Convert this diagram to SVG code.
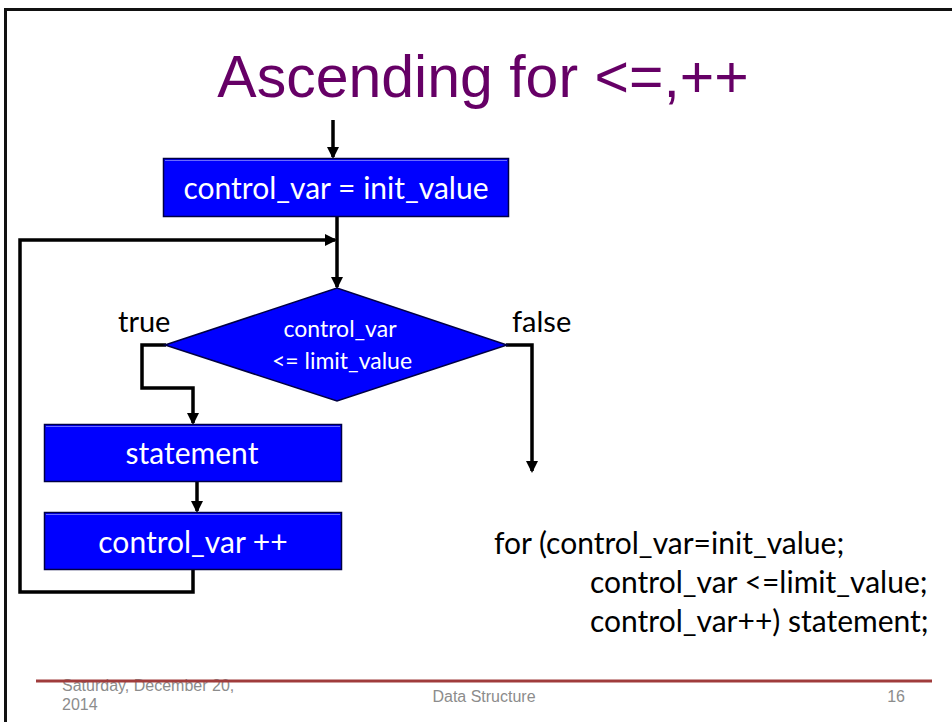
<svg xmlns="http://www.w3.org/2000/svg" width="952" height="722" viewBox="0 0 952 722">
  <style>
    .box { fill: #0000ff; stroke: #000044; stroke-width: 1.5; }
    .bevel { fill: none; stroke: #6a6aff; stroke-width: 1; }
    .lbl { font-family: Lato, "Open Sans", sans-serif; fill: #ffffff; text-anchor: middle; }
    .txt { font-family: Lato, "Open Sans", sans-serif; fill: #000000; }
    .wire { fill: none; stroke: #000000; stroke-width: 3.5; stroke-linejoin: miter; }
    .foot { font-family: "Liberation Sans", Arial, sans-serif; fill: #8c8c8c; font-size: 16px; }
  </style>
  <defs>
    <marker id="arrow" markerWidth="12" markerHeight="12" refX="10" refY="6" orient="auto" markerUnits="userSpaceOnUse">
      <path d="M0,0 L12,6 L0,12 Z" fill="#000000"/>
    </marker>
  </defs>

  <rect x="0" y="0" width="952" height="722" fill="#ffffff"/>
  <!-- slide frame -->
  <path d="M5.5,722 L5.5,9.5 L952,9.5" fill="none" stroke="#111111" stroke-width="3"/>

  <!-- title -->
  <text x="483" y="97" font-family="'Liberation Sans', Arial, sans-serif" font-size="59" fill="#660066" text-anchor="middle">Ascending for &lt;=,++</text>

  <!-- connectors -->
  <g id="connectors">
    <path class="wire" d="M333,120 L333,157" marker-end="url(#arrow)"/>
    <path class="wire" d="M337,217 L337,287" marker-end="url(#arrow)"/>
    <path class="wire" d="M193,569 L193,592 L20,592 L20,240 L335,240" marker-end="url(#arrow)"/>
    <path class="wire" d="M166,345 L142,345 L142,388 L193,388 L193,423" marker-end="url(#arrow)"/>
    <path class="wire" d="M197,482 L197,511" marker-end="url(#arrow)"/>
    <path class="wire" d="M506,345 L532,345 L532,471" marker-end="url(#arrow)"/>
  </g>

  <!-- init node -->
  <g id="init">
    <rect class="box" x="163.5" y="158.5" width="345" height="58"/>
    <path class="bevel" d="M165,160.5 L507,160.5"/>
    <text class="lbl" x="336" y="199" font-size="30">control_var = init_value</text>
  </g>

  <!-- condition node -->
  <g id="condition">
    <polygon class="box" points="165,345 337,288 507,345 337,401"/>
    <text class="lbl" x="340" y="337" font-size="23">control_var</text>
    <text class="lbl" x="342" y="369" font-size="23">&lt;= limit_value</text>
  </g>
  <text class="txt" x="118" y="332" font-size="29">true</text>
  <text class="txt" x="512" y="332" font-size="29">false</text>

  <!-- body node -->
  <g id="statement">
    <rect class="box" x="44.5" y="424.5" width="297" height="57"/>
    <path class="bevel" d="M46,426.5 L340,426.5"/>
    <text class="lbl" x="192" y="464" font-size="30">statement</text>
  </g>

  <!-- increment node -->
  <g id="increment">
    <rect class="box" x="44.5" y="512.5" width="297" height="57"/>
    <path class="bevel" d="M46,514.5 L340,514.5"/>
    <text class="lbl" x="193" y="553" font-size="30">control_var ++</text>
  </g>

  <!-- code listing -->
  <g id="code">
    <text class="txt" x="494" y="554" font-size="30">for (control_var=init_value;</text>
    <text class="txt" x="590" y="593" font-size="30">control_var &lt;=limit_value;</text>
    <text class="txt" x="590" y="632" font-size="30">control_var++) statement;</text>
  </g>

  <!-- footer -->
  <text class="foot" x="62" y="691">Saturday, December 20,</text>
  <text class="foot" x="62" y="710">2014</text>
  <line x1="36" y1="681" x2="932" y2="681" stroke="#a03c3c" stroke-width="3"/>
  <text class="foot" x="484" y="702" text-anchor="middle">Data Structure</text>
  <text class="foot" x="905" y="702" text-anchor="end">16</text>
</svg>
